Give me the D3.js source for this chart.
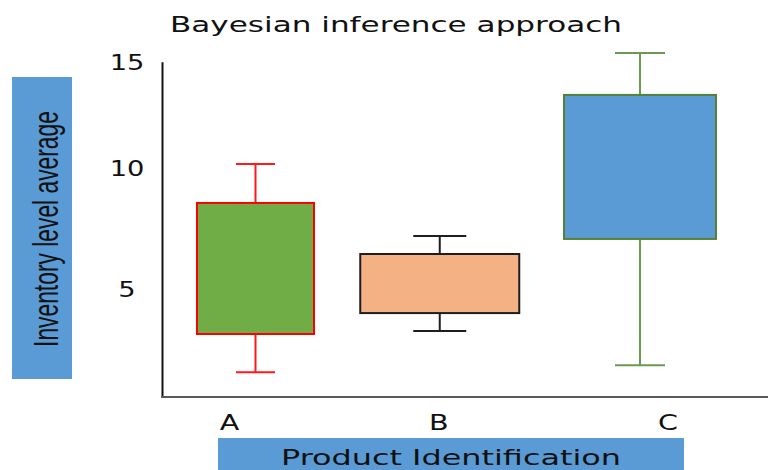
<!DOCTYPE html>
<html>
<head>
<meta charset="utf-8">
<script src="https://cdn.jsdelivr.net/npm/d3@7"></script>
<style>
  html, body { margin: 0; padding: 0; background: #fff; }
  svg { display: block; }
</style>
</head>
<body>
<svg id="chart" width="768" height="470"></svg>
<script>
// ---- data ----
const categories   = ["A", "B", "C"];
const whiskerLow   = [1.58, 3.27, 1.87];
const q1           = [3.15, 4.01, 7.06];
const q3           = [8.54, 6.44, 13.43];
const whiskerHigh  = [10.17, 7.18, 15.41];
const yTicks       = [5, 10, 15];
const yTickLabels  = ["5", "10", "15"];
const titleText    = "Bayesian inference approach";
const xLabelText   = "Product Identification";
const yLabelText   = "Inventory level average";

// ---- styles (not data) ----
const boxStyle = [
  { fill: "#70AD47", stroke: "#FF0000", whisker: "#FF1A1A", width: 117, cap: 39, dx: 0,  labelDx: 0 },
  { fill: "#F4B183", stroke: "#1E1E1E", whisker: "#1E1E1E", width: 159, cap: 53, dx: -8, labelDx: -10 },
  { fill: "#5B9BD5", stroke: "#548235", whisker: "#6A9A4F", width: 152, cap: 50, dx: 0,  labelDx: 0 }
];
const FONT = "'DejaVu Sans', Verdana, sans-serif";

const svg = d3.select("#chart");

const boxes = categories.map((c, i) => ({
  cat: c, lo: whiskerLow[i], q1: q1[i], q3: q3[i], hi: whiskerHigh[i], st: boxStyle[i]
}));

// ---- scales ----
const y = d3.scaleLinear()
  .domain([0.56, 5, 10, 15])
  .range([397, 289, 167.5, 61.7]);

const x = d3.scalePoint().domain(categories).range([255.5, 640]);
const xLab = d3.scalePoint().domain(categories).range([229.5, 668]);
const axisX = 162;

// ---- axis label boxes ----
svg.append("rect").attr("x", 12).attr("y", 77).attr("width", 60).attr("height", 302)
  .attr("fill", "#5B9BD5");
svg.append("rect").attr("x", 218).attr("y", 438).attr("width", 466).attr("height", 40)
  .attr("fill", "#5B9BD5");

// ---- title ----
svg.append("text")
  .attr("x", 396).attr("y", 32)
  .attr("text-anchor", "middle")
  .attr("font-family", FONT).attr("font-size", 22)
  .attr("fill", "#111")
  .attr("textLength", 452).attr("lengthAdjust", "spacingAndGlyphs")
  .text(titleText);

// ---- y axis ----
const yAxis = d3.axisLeft(y)
  .tickValues(yTicks)
  .tickFormat((d, i) => yTickLabels[i])
  .tickSize(0)
  .tickSizeOuter(0);

const gy = svg.append("g").attr("transform", `translate(${axisX},0)`).call(yAxis);
gy.select(".domain").attr("stroke", "#111").attr("stroke-width", 2);
gy.selectAll(".tick text")
  .attr("x", 0)
  .attr("dy", "0.36em")
  .attr("text-anchor", "middle")
  .attr("transform", "translate(-35,0) scale(1.3,1)")
  .attr("font-family", FONT).attr("font-size", 21)
  .attr("fill", "#111");

// ---- x baseline ----
svg.append("line")
  .attr("x1", axisX - 1).attr("x2", 768)
  .attr("y1", y.range()[0]).attr("y2", y.range()[0])
  .attr("stroke", "#5a5a5a").attr("stroke-width", 2);

// ---- category labels ----
svg.append("g").selectAll("text").data(boxes).join("text")
  .attr("transform", d => `translate(${xLab(d.cat) + d.st.labelDx},430) scale(1.3,1)`)
  .attr("text-anchor", "middle")
  .attr("font-family", FONT).attr("font-size", 22)
  .attr("fill", "#111")
  .text(d => d.cat);

// ---- x label ----
svg.append("text")
  .attr("x", 451).attr("y", 465)
  .attr("text-anchor", "middle")
  .attr("font-family", FONT).attr("font-size", 22)
  .attr("fill", "#111")
  .attr("textLength", 340).attr("lengthAdjust", "spacingAndGlyphs")
  .text(xLabelText);

// ---- y label (condensed via scale along the text direction) ----
const yLab = svg.append("text")
  .attr("text-anchor", "middle")
  .attr("font-family", "'Liberation Sans', Arial, sans-serif").attr("font-size", 36)
  .attr("fill", "#111")
  .text(yLabelText);
const natural = yLab.node().getComputedTextLength();
const sx = 236 / natural;
yLab.attr("transform", `translate(58,229) rotate(-90) scale(${sx},1)`);

// ---- boxes ----
const g = svg.append("g").selectAll("g").data(boxes).join("g")
  .attr("transform", d => `translate(${x(d.cat) + d.st.dx},0)`);

g.append("line")
  .attr("x1", 0).attr("x2", 0)
  .attr("y1", d => y(d.hi)).attr("y2", d => y(d.lo))
  .attr("stroke", d => d.st.whisker).attr("stroke-width", 2);

g.append("line")
  .attr("x1", d => -d.st.cap / 2).attr("x2", d => d.st.cap / 2)
  .attr("y1", d => y(d.hi)).attr("y2", d => y(d.hi))
  .attr("stroke", d => d.st.whisker).attr("stroke-width", 2);

g.append("line")
  .attr("x1", d => -d.st.cap / 2).attr("x2", d => d.st.cap / 2)
  .attr("y1", d => y(d.lo)).attr("y2", d => y(d.lo))
  .attr("stroke", d => d.st.whisker).attr("stroke-width", 2);

g.append("rect")
  .attr("x", d => -d.st.width / 2)
  .attr("width", d => d.st.width)
  .attr("y", d => y(d.q3))
  .attr("height", d => y(d.q1) - y(d.q3))
  .attr("fill", d => d.st.fill)
  .attr("stroke", d => d.st.stroke)
  .attr("stroke-width", 2);
</script>
</body>
</html>
